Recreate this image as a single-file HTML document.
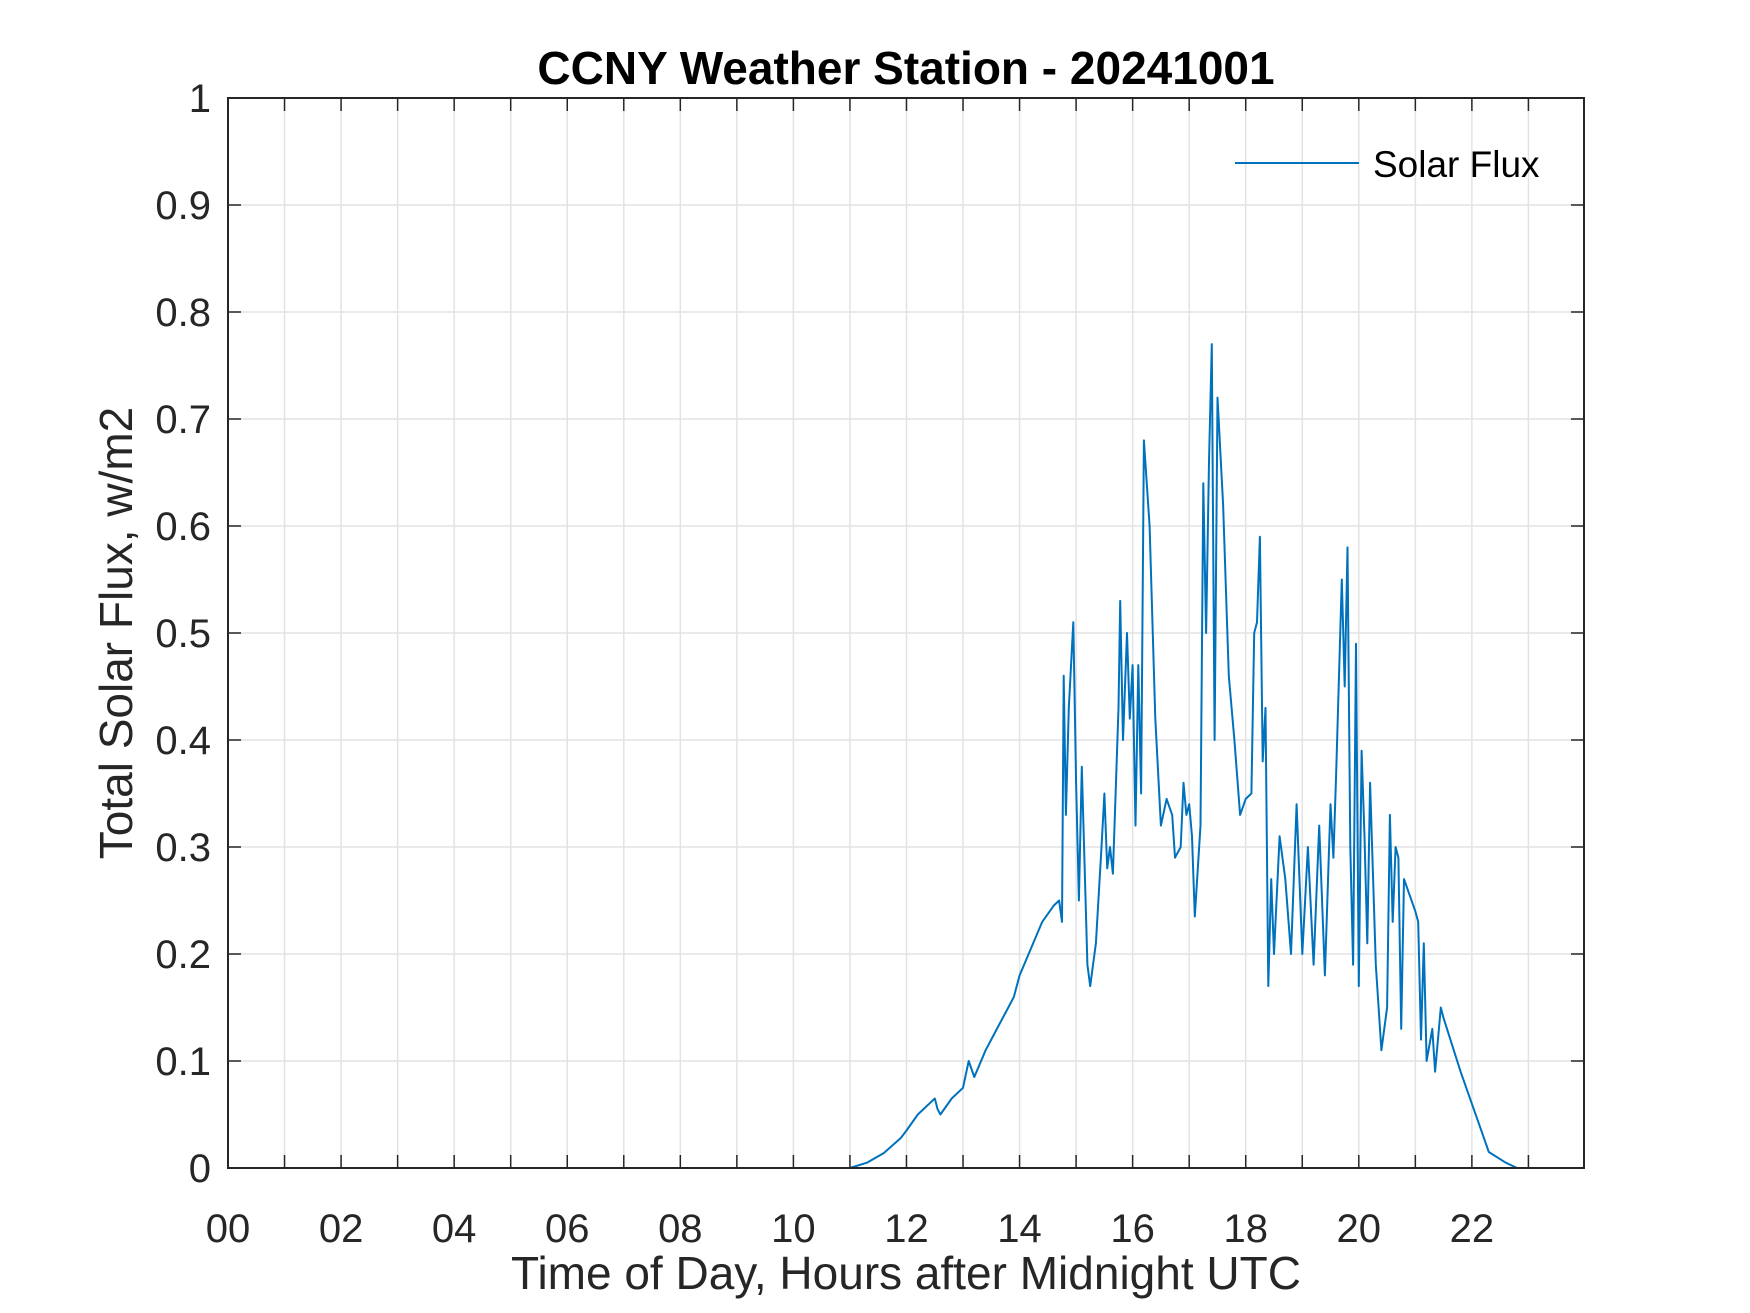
<!DOCTYPE html>
<html><head><meta charset="utf-8"><style>
html,body{margin:0;padding:0;background:#fff;width:1750px;height:1313px;overflow:hidden}
text{font-family:"Liberation Sans",Arial,sans-serif}
</style></head><body>
<svg id="chart" width="1750" height="1313" viewBox="0 0 1750 1313" xmlns="http://www.w3.org/2000/svg">
<rect width="1750" height="1313" fill="#fff"/>
<g id="grid"></g>
<g id="series"></g>
<g id="axes"></g>
<text x="906" y="84" text-anchor="middle" font-size="46" font-weight="bold" fill="#000">CCNY Weather Station - 20241001</text>
<text x="906" y="1289" text-anchor="middle" font-size="46" fill="#262626">Time of Day, Hours after Midnight UTC</text>
<text transform="translate(132,633) rotate(-90)" text-anchor="middle" font-size="46" fill="#262626">Total Solar Flux, w/m2</text>
<g>
<line x1="1235" y1="163" x2="1359" y2="163" stroke="#0072BD" stroke-width="2"/>
<text x="1373" y="177" font-size="37" fill="#000">Solar Flux</text>
</g>
</svg>
<script>
const hours = [0,11,11.3,11.6,11.9,12,12.2,12.4,12.5,12.55,12.6,12.8,13,13.1,13.2,13.4,13.6,13.8,13.9,14,14.2,14.4,14.6,14.7,14.75,14.78,14.82,14.87,14.95,15,15.05,15.1,15.2,15.25,15.35,15.45,15.5,15.55,15.6,15.65,15.75,15.78,15.83,15.9,15.95,16,16.05,16.1,16.15,16.2,16.3,16.4,16.5,16.6,16.7,16.75,16.85,16.9,16.95,17,17.05,17.1,17.2,17.25,17.3,17.35,17.4,17.45,17.5,17.6,17.7,17.8,17.9,18,18.1,18.15,18.2,18.25,18.3,18.35,18.4,18.45,18.5,18.6,18.7,18.8,18.9,19,19.1,19.2,19.3,19.4,19.5,19.55,19.6,19.7,19.75,19.8,19.85,19.9,19.95,20,20.05,20.1,20.15,20.2,20.3,20.4,20.5,20.55,20.6,20.65,20.7,20.75,20.8,21,21.05,21.1,21.15,21.2,21.3,21.35,21.45,21.5,21.8,22,22.2,22.3,22.6,22.8,24];
const flux = [0,0,0.005,0.014,0.028,0.035,0.05,0.06,0.065,0.055,0.05,0.065,0.075,0.1,0.085,0.11,0.13,0.15,0.16,0.18,0.205,0.23,0.245,0.25,0.23,0.46,0.33,0.43,0.51,0.36,0.25,0.375,0.19,0.17,0.21,0.3,0.35,0.28,0.3,0.275,0.43,0.53,0.4,0.5,0.42,0.47,0.32,0.47,0.35,0.68,0.6,0.42,0.32,0.345,0.33,0.29,0.3,0.36,0.33,0.34,0.31,0.235,0.32,0.64,0.5,0.66,0.77,0.4,0.72,0.62,0.46,0.4,0.33,0.345,0.35,0.5,0.51,0.59,0.38,0.43,0.17,0.27,0.2,0.31,0.27,0.2,0.34,0.2,0.3,0.19,0.32,0.18,0.34,0.29,0.37,0.55,0.45,0.58,0.3,0.19,0.49,0.17,0.39,0.31,0.21,0.36,0.19,0.11,0.15,0.33,0.23,0.3,0.29,0.13,0.27,0.24,0.23,0.12,0.21,0.1,0.13,0.09,0.15,0.14,0.09,0.06,0.03,0.015,0.005,0,0];
const xTickLabels = ["00","02","04","06","08","10","12","14","16","18","20","22"];
const yTickLabels = ["0","0.1","0.2","0.3","0.4","0.5","0.6","0.7","0.8","0.9","1"];

const L=228,R=1584,T=98,B=1168,XMAX=23.983;
const xs=h=>L+(R-L)*h/XMAX;
const ys=v=>B-(B-T)*v;
const NS="http://www.w3.org/2000/svg";
function mk(tag,attrs,parent){const e=document.createElementNS(NS,tag);for(const k in attrs)e.setAttribute(k,attrs[k]);parent.appendChild(e);return e;}
const grid=document.getElementById('grid'),axes=document.getElementById('axes'),series=document.getElementById('series');
for(let h=1;h<24;h++){
  const g=mk('line',{x1:xs(h),x2:xs(h),y1:T,y2:B,stroke:'#e3e3e3','stroke-width':1.5},grid);
  
  
  const t1=mk('line',{x1:xs(h),x2:xs(h),y1:B,y2:B-13,stroke:'#262626','stroke-width':1.5},axes);
  
  
  const t2=mk('line',{x1:xs(h),x2:xs(h),y1:T,y2:T+13,stroke:'#262626','stroke-width':1.5},axes);
  
  
}
xTickLabels.forEach((lab,i)=>{
  const t=mk('text',{x:xs(i*2),y:1242,'text-anchor':'middle','font-size':40,fill:'#262626'},axes);
  t.textContent=lab;
  
  
});
yTickLabels.forEach((lab,i)=>{
  const v=i/10,y=ys(v);
  if(i>0&&i<10){
    const g=mk('line',{x1:L,x2:R,y1:y,y2:y,stroke:'#e3e3e3','stroke-width':1.5},grid);
    
    
  }
  const a=mk('line',{x1:L,x2:L+13,y1:y,y2:y,stroke:'#262626','stroke-width':1.5},axes);
  
  
  const b=mk('line',{x1:R,x2:R-13,y1:y,y2:y,stroke:'#262626','stroke-width':1.5},axes);
  
  
  const t=mk('text',{x:211,y:y+14,'text-anchor':'end','font-size':40,fill:'#262626'},axes);
  t.textContent=lab;
  
  
});
const box=mk('rect',{x:L,y:T,width:R-L,height:B-T,fill:'none',stroke:'#262626','stroke-width':2},axes);


const pts=hours.map((h,i)=>xs(h).toFixed(1)+','+ys(flux[i]).toFixed(1)).join(' ');
const line=mk('polyline',{points:pts,fill:'none',stroke:'#0072BD','stroke-width':2,'stroke-linejoin':'round'},series);


</script>
</body></html>
